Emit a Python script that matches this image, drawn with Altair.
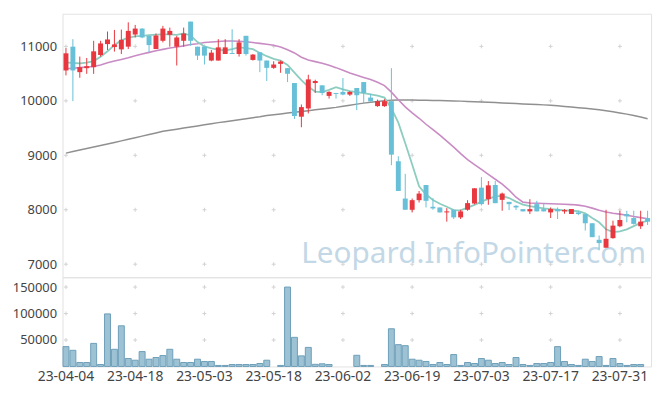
import altair as alt
import pandas as pd

DATES = [
    "23-04-04", "23-04-05", "23-04-06", "23-04-07", "23-04-10", "23-04-11", "23-04-12", "23-04-13", "23-04-14", "23-04-17",
    "23-04-18", "23-04-19", "23-04-20", "23-04-21", "23-04-24", "23-04-25", "23-04-26", "23-04-27", "23-04-28", "23-05-02",
    "23-05-03", "23-05-04", "23-05-08", "23-05-09", "23-05-10", "23-05-11", "23-05-12", "23-05-15", "23-05-16", "23-05-17",
    "23-05-18", "23-05-19", "23-05-22", "23-05-23", "23-05-24", "23-05-25", "23-05-26", "23-05-30", "23-05-31", "23-06-01",
    "23-06-02", "23-06-05", "23-06-07", "23-06-08", "23-06-09", "23-06-12", "23-06-13", "23-06-14", "23-06-15", "23-06-16",
    "23-06-19", "23-06-20", "23-06-21", "23-06-22", "23-06-23", "23-06-26", "23-06-27", "23-06-28", "23-06-29", "23-06-30",
    "23-07-03", "23-07-04", "23-07-05", "23-07-06", "23-07-07", "23-07-10", "23-07-11", "23-07-12", "23-07-13", "23-07-14",
    "23-07-17", "23-07-18", "23-07-19", "23-07-20", "23-07-21", "23-07-24", "23-07-25", "23-07-26", "23-07-27", "23-07-28",
    "23-07-31", "23-08-01", "23-08-02", "23-08-03", "23-08-04",
]

OPEN = [10558, 10995, 10527, 10600, 10618, 10842, 11042, 10988, 10945, 10995,
        11218, 11327, 11194, 10951, 11103, 11212, 10995, 11103, 11455, 10995,
        10995, 10740, 10740, 10860, 10878, 10860, 11194, 10751, 10891, 10740,
        10606, 10679, 10600, 10327, 9709, 9860, 10327, 10285, 10091, 10145,
        10164, 10115, 10236, 10345, 10060, 9903, 9903, 9994, 8891, 8206,
        8000, 8176, 8455, 8055, 8042, 7951, 8000, 7860, 8000, 8115,
        8406, 8194, 8455, 8182, 8145, 8073, 8012, 7970, 8103, 8012,
        7951, 8012, 7970, 7921, 7951, 7921, 7752, 7448, 7303, 7479,
        7697, 7921, 7848, 7697, 7848]

CLOSE = [10873, 10558, 10618, 10636, 10909, 11055, 11127, 11036, 11121, 11285,
         11327, 11164, 11024, 11200, 11327, 11285, 11164, 11236, 11103, 10830,
         10830, 10885, 10982, 10982, 10860, 11073, 10860, 10849, 10740, 10606,
         10667, 10722, 10497, 9722, 9885, 10394, 10364, 10145, 10164, 10127,
         10115, 10164, 10103, 10145, 9990, 9994, 9994, 9012, 8345, 8000,
         8176, 8297, 8164, 8024, 7951, 7970, 7860, 7970, 8122, 8394,
         8103, 8448, 8121, 8297, 8103, 8042, 7970, 8012, 7970, 7970,
         8012, 7970, 7994, 8012, 7921, 7752, 7497, 7388, 7467, 7709,
         7812, 7879, 7740, 7782, 7782]

HIGH = [10969, 11133, 10813, 10787, 11103, 11103, 11273, 11303, 11309, 11442,
        11394, 11333, 11194, 11236, 11376, 11345, 11194, 11345, 11455, 10995,
        10995, 10933, 11133, 11133, 11315, 11133, 11194, 10860, 10891, 10740,
        10727, 10740, 10600, 10327, 9933, 10479, 10388, 10285, 10176, 10145,
        10418, 10176, 10236, 10345, 10130, 10024, 10030, 10600, 8982, 8660,
        8206, 8345, 8455, 8212, 8042, 8030, 8000, 8000, 8176, 8394,
        8600, 8527, 8527, 8315, 8145, 8085, 8012, 8194, 8164, 8115,
        8042, 8042, 8012, 8012, 7970, 7921, 7752, 7527, 8000, 7800,
        7982, 7982, 7982, 7982, 7982]

LOW = [10467, 9995, 10424, 10496, 10496, 10813, 10933, 10904, 10860, 10951,
       11164, 11151, 10891, 10951, 11073, 10995, 10649, 10995, 11012, 10751,
       10667, 10727, 10740, 10860, 10860, 10813, 10831, 10740, 10527, 10364,
       10588, 10515, 10345, 9667, 9515, 9769, 10145, 10103, 10042, 10042,
       10103, 10091, 9830, 9951, 9990, 9890, 9890, 8818, 8345, 8000,
       7951, 8133, 8042, 8000, 7951, 7782, 7830, 7830, 7982, 8100,
       8079, 8091, 8121, 7982, 7994, 7994, 7970, 7921, 7970, 7970,
       7848, 7830, 7927, 7921, 7900, 7618, 7497, 7255, 7303, 7467,
       7679, 7770, 7727, 7648, 7720]

VOLUME = [37500, 30500, 7500, 7500, 43600, 3700, 99300, 32400, 76800, 15000,
          11800, 28100, 13700, 16900, 20600, 32400, 13700, 7500, 7500, 13700,
          9400, 9400, 1900, 1900, 3700, 3700, 3700, 3700, 5600, 11800,
          0, 1900, 150000, 55000, 20000, 36000, 4000, 5000, 3700, 0,
          0, 0, 21100, 1900, 1900, 0, 3700, 71200, 41200, 39300,
          13700, 11800, 9400, 3700, 7500, 3700, 22500, 1900, 7500, 5600,
          15000, 11800, 5600, 7500, 3700, 16900, 3700, 1900, 5600, 5600,
          7500, 37500, 9400, 3700, 1900, 13700, 9400, 18700, 1900, 15000,
          5600, 1900, 3700, 3700, 0]

MA5 = [10705, 10695, 10690, 10700, 10730, 10810, 10910, 11025, 11110, 11160,
       11185, 11195, 11205, 11215, 11222, 11220, 11212, 11240, 11200, 11080,
       11000, 10965, 10940, 10925, 10950, 10980, 10970, 10950, 10880, 10820,
       10770, 10740, 10660, 10520, 10380, 10260, 10170, 10160, 10200, 10250,
       10210, 10180, 10160, 10140, 10120, 10095, 10060, 9860, 9600, 9220,
       8830, 8430, 8280, 8180, 8110, 8055, 7995, 7990, 8040, 8090,
       8150, 8200, 8245, 8255, 8215, 8150, 8095, 8065, 8045, 8025,
       8012, 8000, 7990, 7982, 7975, 7935, 7850, 7770, 7640, 7590,
       7605, 7640, 7700, 7760, 7800]

MA20 = [10590, 10600, 10610, 10620, 10630, 10660, 10700, 10730, 10760, 10790,
        10830, 10860, 10890, 10920, 10945, 10970, 10990, 11010, 11035, 11050,
        11070, 11080, 11090, 11100, 11100, 11095, 11085, 11070, 11055, 11040,
        11020, 10990, 10940, 10880, 10800, 10750, 10720, 10690, 10655, 10610,
        10560, 10510, 10470, 10430, 10390, 10340, 10280, 10160, 10020, 9890,
        9780, 9680, 9570, 9470, 9370, 9260, 9150, 9030, 8920, 8830,
        8740, 8650, 8560, 8470, 8360, 8230, 8140, 8125, 8120, 8115,
        8110, 8105, 8100, 8095, 8085, 8065, 8030, 7990, 7960, 7935,
        7920, 7900, 7875, 7855, 7835]

MA120 = [9040, 9068, 9096, 9124, 9152, 9180, 9208, 9236, 9265, 9294,
         9323, 9352, 9381, 9410, 9440, 9460, 9480, 9500, 9520, 9540,
         9560, 9580, 9600, 9618, 9636, 9654, 9672, 9690, 9708, 9730,
         9745, 9760, 9775, 9790, 9805, 9820, 9835, 9850, 9865, 9880,
         9900, 9920, 9940, 9958, 9975, 9990, 10002, 10012, 10014, 10015,
         10014, 10012, 10010, 10008, 10005, 10002, 9999, 9995, 9990, 9985,
         9980, 9975, 9968, 9962, 9956, 9950, 9944, 9938, 9932, 9926,
         9917, 9908, 9898, 9887, 9875, 9863, 9850, 9836, 9818, 9798,
         9778, 9756, 9731, 9703, 9672]

LABEL_DATES = ["23-04-04", "23-04-18", "23-05-03", "23-05-18", "23-06-02",
               "23-06-19", "23-07-03", "23-07-17", "23-07-31"]
PRICE_TICKS = [7000, 8000, 9000, 10000, 11000]
VOLUME_TICKS = [50000, 100000, 150000]
WATERMARK = "Leopard.InfoPointer.com"

RED = "#e8373e"
BLUE = "#67c0d7"
FONT = "Noto Sans"
LABEL_COLOR = "#444444"

df = pd.DataFrame({
    "date": DATES, "open": OPEN, "close": CLOSE, "high": HIGH, "low": LOW,
    "volume": VOLUME, "ma5": MA5, "ma20": MA20, "ma120": MA120,
})
df["dir"] = ["up" if c >= o else "down" for o, c in zip(OPEN, CLOSE)]

W = 594
H_PRICE = 266
H_VOL = 90

xscale = alt.Scale(domain=DATES, type="band", paddingInner=0, paddingOuter=0)
pscale = alt.Scale(domain=[6760, 11600], zero=False, nice=False)
vscale = alt.Scale(domain=[0, 168500], nice=False)

p_axis = alt.Axis(values=PRICE_TICKS, ticks=False, domain=False, grid=False, format="d",
                  labelFontSize=13, labelColor=LABEL_COLOR, labelFont=FONT,
                  labelPadding=6, minExtent=54, maxExtent=54, title=None)
v_axis = alt.Axis(values=VOLUME_TICKS, ticks=False, domain=False, grid=False, format="d",
                  labelFontSize=13, labelColor=LABEL_COLOR, labelFont=FONT,
                  labelPadding=6, minExtent=54, maxExtent=54, title=None)
x_none = alt.X("date:O", scale=xscale, axis=None)

color = alt.Color("dir:N", scale=alt.Scale(domain=["up", "down"], range=[RED, BLUE]), legend=None)

cross_shape = "M-1,0L1,0M0,-1L0,1"

price_cross_df = pd.DataFrame([(d, v) for d in LABEL_DATES for v in PRICE_TICKS],
                              columns=["date", "v"])
vol_cross_df = pd.DataFrame([(d, v) for d in LABEL_DATES for v in VOLUME_TICKS],
                            columns=["date", "v"])

p_cross = alt.Chart(price_cross_df).mark_point(
    shape=cross_shape, size=16, filled=False, stroke="#d2d2d2", strokeWidth=1, opacity=1
).encode(x=x_none, y=alt.Y("v:Q", scale=pscale, axis=p_axis))

watermark = alt.Chart(pd.DataFrame({"t": [WATERMARK]})).mark_text(
    align="right", baseline="alphabetic", font=FONT, fontSize=30, color="#c3d8e6"
).encode(text="t:N", x=alt.value(589), y=alt.value(252))

base = alt.Chart(df)

ma120 = base.mark_line(color="#909090", strokeWidth=1.5).encode(
    x=x_none, y=alt.Y("ma120:Q", scale=pscale, axis=p_axis))
ma20 = base.mark_line(color="#c98bc4", strokeWidth=1.6).encode(
    x=x_none, y=alt.Y("ma20:Q", scale=pscale, axis=p_axis))
ma5 = base.mark_line(color="#8ccdc0", strokeWidth=1.8).encode(
    x=x_none, y=alt.Y("ma5:Q", scale=pscale, axis=p_axis))

wicks = base.mark_rule(strokeWidth=1).encode(
    x=x_none, y=alt.Y("low:Q", scale=pscale, axis=p_axis), y2="high:Q", color=color)
bodies = base.mark_bar(size=5).encode(
    x=x_none, y=alt.Y("open:Q", scale=pscale, axis=p_axis), y2="close:Q", color=color)

price = alt.layer(p_cross, watermark, ma120, ma20, ma5, wicks, bodies).properties(
    width=W, height=H_PRICE)

x_vol = alt.X("date:O", scale=xscale,
              axis=alt.Axis(values=LABEL_DATES, labelAngle=0, ticks=False, domain=False,
                            grid=False, labelFontSize=14, labelColor=LABEL_COLOR,
                            labelFont=FONT, labelPadding=3, title=None))

v_cross = alt.Chart(vol_cross_df).mark_point(
    shape=cross_shape, size=16, filled=False, stroke="#d2d2d2", strokeWidth=1, opacity=1
).encode(x=x_vol, y=alt.Y("v:Q", scale=vscale, axis=v_axis))

vbars = base.transform_filter("datum.volume > 0").mark_bar(
    size=6, fill="#9cc2d3", stroke="#6e9fb9", strokeWidth=1
).encode(x=x_vol, y=alt.Y("volume:Q", scale=vscale, axis=v_axis))

volume = alt.layer(v_cross, vbars).properties(width=W, height=H_VOL)

chart = alt.vconcat(price, volume, spacing=0, bounds="flush").properties(
    padding={"left": 0, "top": 3, "right": 5, "bottom": 5},
    background="white",
).configure_view(stroke="#e2e2e2", strokeWidth=1)

chart.save("out.html", embed_options={"renderer": "svg", "actions": False})
